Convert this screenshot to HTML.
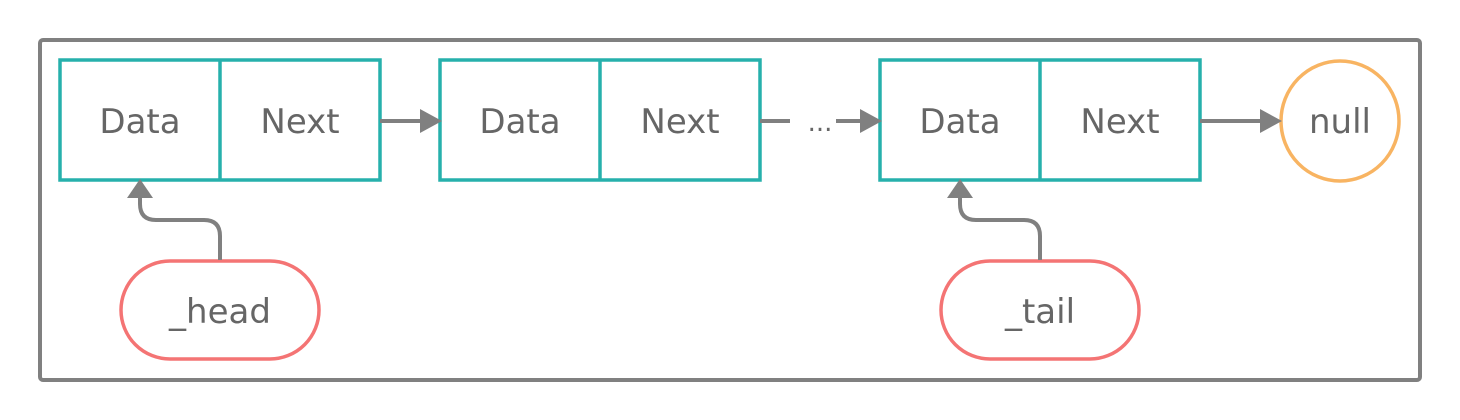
<!DOCTYPE html>
<html><head><style>html,body{margin:0;padding:0;background:#fff;}svg{display:block}</style></head>
<body>
<svg width="1460" height="420" viewBox="0 0 1460 420" xmlns="http://www.w3.org/2000/svg" font-family="'DejaVu Sans','Liberation Sans',sans-serif" font-size="34" fill="#666">
<rect x="40" y="40" width="1380" height="340" rx="3" fill="none" stroke="#808080" stroke-width="4"/>
<g fill="none" stroke="#26b0ac" stroke-width="3.5">
<rect x="60" y="60" width="320" height="120"/><line x1="220" y1="60" x2="220" y2="180"/>
<rect x="440" y="60" width="320" height="120"/><line x1="600" y1="60" x2="600" y2="180"/>
<rect x="880" y="60" width="320" height="120"/><line x1="1040" y1="60" x2="1040" y2="180"/>
</g>
<ellipse cx="1340" cy="121" rx="59" ry="60" fill="none" stroke="#f8b462" stroke-width="3.5"/>
<rect x="121" y="261" width="198" height="98" rx="49" fill="none" stroke="#f47474" stroke-width="3.5"/>
<rect x="941" y="261" width="198" height="98" rx="49" fill="none" stroke="#f47474" stroke-width="3.5"/>
<g stroke="#808080" stroke-width="4" fill="none">
<line x1="380" y1="121" x2="422" y2="121"/>
<line x1="760" y1="121" x2="790" y2="121"/>
<line x1="836" y1="121" x2="862" y2="121"/>
<line x1="1200" y1="121" x2="1262" y2="121"/>
<path d="M220 260 V236 Q220 220 204 220 H156 Q140 220 140 204 V196"/>
<path d="M1040 260 V236 Q1040 220 1024 220 H976 Q960 220 960 204 V196"/>
</g>
<g fill="#808080">
<polygon points="420,109 442,121 420,133"/>
<polygon points="860,109 882,121 860,133"/>
<polygon points="1260,109 1282,121 1260,133"/>
<polygon points="127,198 140,179 153,198"/>
<polygon points="947,198 960,179 973,198"/>
</g>
<g text-anchor="middle">
<text x="140" y="133">Data</text><text x="300" y="133">Next</text>
<text x="520" y="133">Data</text><text x="680" y="133">Next</text>
<text x="960" y="133">Data</text><text x="1120" y="133">Next</text>
<text x="1340" y="133">null</text>
<text x="220" y="323">_head</text>
<text x="1040" y="323">_tail</text>
<text x="820" y="131" font-size="26">...</text>
</g>
</svg>
</body></html>
